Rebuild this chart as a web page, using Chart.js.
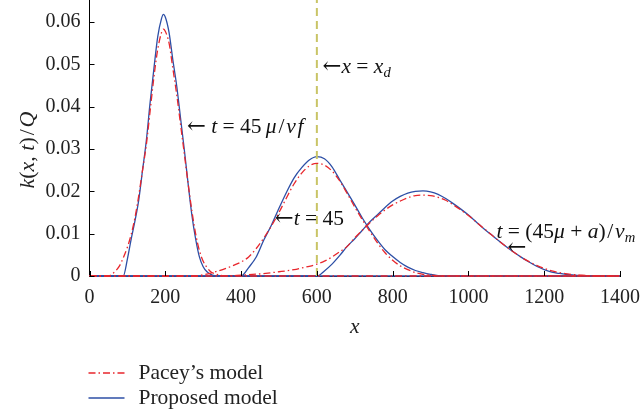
<!DOCTYPE html>
<html>
<head>
<meta charset="utf-8">
<script src="https://cdn.jsdelivr.net/npm/chart.js@4.4.0/dist/chart.umd.min.js"></script>
<style>
  html, body { margin: 0; padding: 0; background: #fff; }
  #wrap { width: 643px; height: 417px; }
</style>
</head>
<body>
<div id="wrap"><canvas id="c" width="643" height="417"></canvas></div>
<script>
// Values
const xTickStep = 200;
const yTickStep = 0.01;
const xMax = 1400;
const yMax = 0.0652;
const xd = 600;

// Proposed model (blue)
const blue1X = [0, 89, 100, 110, 120, 130, 140, 150, 160, 170, 180, 190, 195, 200, 210, 220, 230, 240, 250, 260, 270, 280, 290, 300, 310, 320, 330, 340, 1400];
const blue1Y = [0, 0, 0.004, 0.0087, 0.013, 0.018, 0.025, 0.032, 0.041, 0.049, 0.0565, 0.0608, 0.0618, 0.0612, 0.0575, 0.051, 0.045, 0.0375, 0.030, 0.022, 0.0145, 0.0088, 0.0045, 0.0022, 0.001, 0.0004, 0.0001, 0, 0];
const blue2X = [0, 400, 420, 440, 460, 480, 500, 520, 540, 560, 580, 600, 620, 640, 660, 680, 700, 720, 740, 760, 780, 800, 820, 840, 860, 880, 900, 920, 950, 1400];
const blue2Y = [0, 0, 0.002, 0.0045, 0.0085, 0.012, 0.016, 0.0198, 0.0232, 0.0256, 0.0274, 0.0282, 0.0277, 0.0258, 0.0228, 0.0198, 0.0168, 0.0137, 0.0109, 0.0084, 0.0062, 0.0046, 0.0032, 0.0021, 0.0013, 0.0008, 0.0004, 0.0001, 0, 0];
const blue3X = [0, 600, 620, 640, 660, 680, 700, 720, 740, 760, 780, 800, 820, 840, 860, 880, 900, 920, 940, 960, 980, 1000, 1020, 1040, 1060, 1080, 1100, 1120, 1140, 1160, 1180, 1200, 1220, 1240, 1260, 1280, 1300, 1340, 1400];
const blue3Y = [0, 0, 0.0012, 0.0028, 0.0048, 0.007, 0.0088, 0.0108, 0.0128, 0.0145, 0.0162, 0.0177, 0.0188, 0.0196, 0.02, 0.0201, 0.0199, 0.0193, 0.0183, 0.0171, 0.0158, 0.0144, 0.0128, 0.0112, 0.0098, 0.0083, 0.0069, 0.0056, 0.0044, 0.0033, 0.0023, 0.0015, 0.0009, 0.0006, 0.0004, 0.0002, 0.0001, 0, 0];

// Pacey's model (red)
const red1X = [0, 50, 60, 70, 80, 90, 100, 110, 120, 130, 140, 150, 160, 170, 180, 190, 195, 200, 210, 220, 230, 240, 250, 260, 270, 280, 290, 300, 310, 320, 340, 360, 1400];
const red1Y = [0, 0, 0.0005, 0.0013, 0.0025, 0.0045, 0.0068, 0.0098, 0.0138, 0.019, 0.025, 0.031, 0.039, 0.047, 0.0535, 0.0575, 0.0583, 0.0578, 0.055, 0.049, 0.043, 0.036, 0.029, 0.022, 0.0155, 0.01, 0.006, 0.0035, 0.002, 0.001, 0.0003, 0, 0];
const red2X = [0, 280, 300, 320, 340, 360, 380, 400, 420, 440, 460, 480, 500, 520, 540, 560, 580, 600, 620, 640, 660, 680, 700, 720, 740, 760, 780, 800, 820, 840, 860, 880, 900, 920, 1400];
const red2Y = [0, 0, 0.0003, 0.0007, 0.0012, 0.0018, 0.0025, 0.0033, 0.0045, 0.0065, 0.009, 0.0118, 0.015, 0.0185, 0.0218, 0.0243, 0.026, 0.0266, 0.0262, 0.0248, 0.0225, 0.0195, 0.0163, 0.0133, 0.0105, 0.0078, 0.0055, 0.0037, 0.0024, 0.0015, 0.0008, 0.0004, 0.0002, 0, 0];
const red3X = [0, 350, 400, 450, 500, 540, 560, 580, 600, 620, 640, 660, 680, 700, 720, 740, 760, 780, 800, 820, 840, 860, 880, 900, 920, 940, 960, 980, 1000, 1020, 1040, 1060, 1080, 1100, 1120, 1140, 1160, 1180, 1200, 1220, 1240, 1260, 1280, 1300, 1340, 1400];
const red3Y = [0, 0, 0.0002, 0.0005, 0.001, 0.0015, 0.0019, 0.0023, 0.0028, 0.0035, 0.0045, 0.0057, 0.007, 0.009, 0.0108, 0.0126, 0.0142, 0.0156, 0.0168, 0.0177, 0.0185, 0.019, 0.0191, 0.019, 0.0186, 0.0179, 0.0168, 0.0156, 0.0143, 0.0128, 0.0113, 0.0098, 0.0083, 0.0069, 0.0056, 0.0044, 0.0034, 0.0025, 0.0018, 0.0012, 0.0008, 0.0005, 0.0003, 0.0002, 0, 0];

const legendLabels = ['Pacey\u2019s model', 'Proposed model'];

// Text labels in the plot, anchored in data units: [x, y, parts]
// part style: 0 upright, 1 italic, 2 italic subscript, 3 arrow
const TS = '\u2009';
const HS = '\u200a';
const notes = [
    [257, 0.0352, [['\u2190', 3], [' ', 0], ['t', 1], [' = 45' + TS, 0], ['\u03bc', 1], [HS + '/' + HS, 0], ['v' + HS + 'f', 1]]],
    [615, 0.0494, [['\u2190', 3], ['x', 1], [' = ', 0], ['x', 1], ['d', 2]]],
    [489, 0.01348, [['\u2190', 3], ['t', 1], [' = 45', 0]]],
    [1074, 0.0104, [['t', 1], [' = (45', 0], ['\u03bc', 1], [' + ', 0], ['a', 1], [')' + HS + '/' + HS, 0], ['v', 1], ['m', 2]]],
    [1103, 0.0066, [['\u2190', 3]]]
];
const yTitle = [['k', 1], ['(', 0], ['x', 1], [', ', 0], ['t', 1], [')' + HS + '/' + HS, 0], ['Q', 1]];

const BLUE = '#2d4fa6';
const RED = '#e8262c';
const OLIVE = '#c9c466';
const FONT = '"Liberation Serif", serif';
const FS = 21.5;

function pts(xs, ys) {
    return xs.map((x, i) => ({ x: x, y: ys[i] }));
}

function lineSet(xs, ys, color, dash) {
    return {
        data: pts(xs, ys),
        borderColor: color,
        borderWidth: 1.3,
        borderDash: dash,
        pointRadius: 0,
        fill: false,
        showLine: true,
        cubicInterpolationMode: 'monotone',
        clip: false
    };
}

function partFont(style, size) {
    if (style === 3) return (size * 1.05) + 'px "DejaVu Serif", serif';
    if (style === 2) return 'italic ' + (size * 0.68) + 'px ' + FONT;
    return (style === 1 ? 'italic ' : '') + size + 'px ' + FONT;
}

function drawRich(ctx, x, y, parts, size) {
    let cx = x;
    parts.forEach(p => {
        ctx.font = partFont(p[1], size);
        ctx.fillText(p[0], cx, y + (p[1] === 2 ? size * 0.28 : 0));
        cx += ctx.measureText(p[0]).width;
    });
    return cx - x;
}

function richWidth(ctx, parts, size) {
    let w = 0;
    parts.forEach(p => {
        ctx.font = partFont(p[1], size);
        w += ctx.measureText(p[0]).width;
    });
    return w;
}

const extras = {
    id: 'extras',
    afterDatasetsDraw(chart) {
        const ctx = chart.ctx;
        const xs = chart.scales.x, ys = chart.scales.y;
        const area = chart.chartArea;
        ctx.save();
        // inward ticks
        ctx.strokeStyle = '#000';
        ctx.lineWidth = 1;
        ctx.beginPath();
        xs.ticks.forEach(t => {
            const px = Math.round(xs.getPixelForValue(t.value)) + 0.5;
            ctx.moveTo(px, area.bottom);
            ctx.lineTo(px, area.bottom - 5);
        });
        ys.ticks.forEach(t => {
            const py = Math.round(ys.getPixelForValue(t.value)) + 0.5;
            ctx.moveTo(area.left, py);
            ctx.lineTo(area.left + 5, py);
        });
        ctx.stroke();

        // notes
        ctx.fillStyle = '#111';
        ctx.textBaseline = 'middle';
        ctx.textAlign = 'left';
        notes.forEach(n => {
            drawRich(ctx, xs.getPixelForValue(n[0]), ys.getPixelForValue(n[1]), n[2], FS);
        });

        // axis titles
        ctx.fillStyle = '#222';
        ctx.font = 'italic ' + FS + 'px ' + FONT;
        ctx.textAlign = 'center';
        ctx.fillText('x', (area.left + area.right) / 2, 327);
        ctx.textAlign = 'left';
        ctx.save();
        ctx.translate(28, 150);
        ctx.rotate(-Math.PI / 2);
        const w = richWidth(ctx, yTitle, 22);
        drawRich(ctx, -w / 2, 0, yTitle, 22);
        ctx.restore();

        // legend
        const lx = area.left - 1;
        const rows = [[RED, [7, 3, 1.5, 3], 373], [BLUE, [], 398]];
        rows.forEach((r, i) => {
            ctx.strokeStyle = r[0];
            ctx.lineWidth = 1.3;
            ctx.setLineDash(r[1]);
            ctx.beginPath();
            ctx.moveTo(lx, r[2]);
            ctx.lineTo(lx + 36, r[2]);
            ctx.stroke();
            ctx.setLineDash([]);
            ctx.fillStyle = '#222';
            ctx.font = FS + 'px ' + FONT;
            ctx.fillText(legendLabels[i], lx + 50, r[2]);
        });
        ctx.restore();
    }
};

new Chart(document.getElementById('c'), {
    type: 'scatter',
    data: {
        datasets: [
            {
                data: [{ x: xd, y: 0 }, { x: xd, y: yMax }],
                borderColor: OLIVE,
                borderWidth: 2,
                borderDash: [8, 5],
                pointRadius: 0,
                showLine: true,
                clip: false
            },
            lineSet(red1X, red1Y, RED, [7, 3, 1.5, 3]),
            lineSet(red2X, red2Y, RED, [7, 3, 1.5, 3]),
            lineSet(red3X, red3Y, RED, [7, 3, 1.5, 3]),
            lineSet(blue1X, blue1Y, BLUE, []),
            lineSet(blue2X, blue2Y, BLUE, []),
            lineSet(blue3X, blue3Y, BLUE, [])
        ]
    },
    options: {
        responsive: false,
        animation: false,
        devicePixelRatio: 1,
        layout: { padding: { left: 0, right: 23, top: 0, bottom: 0 } },
        plugins: { legend: { display: false }, tooltip: { enabled: false } },
        scales: {
            x: {
                type: 'linear',
                min: 0,
                max: xMax,
                grid: { display: false, drawTicks: false },
                border: { display: true, color: '#000', width: 1 },
                ticks: {
                    stepSize: xTickStep,
                    padding: 10,
                    color: '#222',
                    font: { family: FONT, size: 20 },
                    maxRotation: 0,
                    callback: v => String(v)
                },
                afterFit: s => {
                    s.height = 141;
                    s.paddingLeft = 0;
                    s.paddingRight = 0;
                }
            },
            y: {
                type: 'linear',
                min: 0,
                max: yMax,
                grid: { display: false, drawTicks: false },
                border: { display: true, color: '#000', width: 1 },
                ticks: {
                    stepSize: yTickStep,
                    includeBounds: false,
                    padding: 9,
                    color: '#222',
                    font: { family: FONT, size: 20 },
                    callback: v => v === 0 ? '0' : v.toFixed(2)
                },
                afterFit: s => {
                    s.width = 89.5;
                    s.paddingTop = 0;
                    s.paddingBottom = 0;
                }
            }
        }
    },
    plugins: [extras]
});
</script>
</body>
</html>
